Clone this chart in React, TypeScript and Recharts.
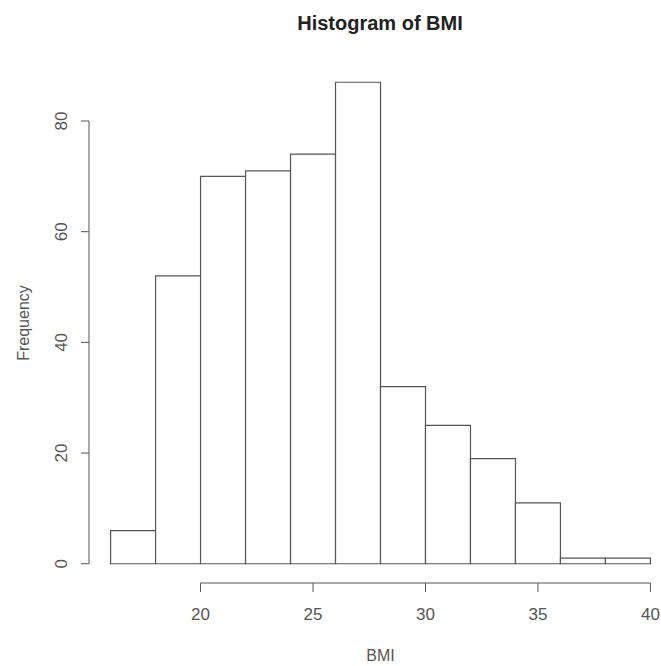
import React from 'react';
import { ComposedChart, Bar, XAxis, YAxis, ReferenceLine } from 'recharts';

// bins of width 2, from 16 to 40
const binStarts = [16, 18, 20, 22, 24, 26, 28, 30, 32, 34, 36, 38];
const counts = [6, 52, 70, 71, 74, 87, 32, 25, 19, 11, 1, 1];
const xTicks = [20, 25, 30, 35, 40];
const yTicks = [0, 20, 40, 60, 80];

const data = binStarts.map((s, i) => ({ mid: s + 1, count: counts[i] }));

const FONT = '"Liberation Sans", Arial, Helvetica, sans-serif';
const INK = '#555';

// R pads the axis range by 4% on each side
const xDomain = [15.04, 40.96];
const yDomain = [-3.48, 90.48];

const YTick = ({ x, y, payload }: any) => (
  <text
    x={x - 18}
    y={y}
    dy="0.35em"
    transform={`rotate(-90 ${x - 18} ${y})`}
    textAnchor="middle"
    fontSize={17}
    fill={INK}
    fontFamily={FONT}
  >
    {payload.value}
  </text>
);

const FreqLabel = ({ viewBox }: any) => {
  const cy = viewBox.y + viewBox.height / 2;
  return (
    <text
      x={23}
      y={cy}
      dy="0.35em"
      transform={`rotate(-90 23 ${cy})`}
      textAnchor="middle"
      fontSize={16}
      fill={INK}
      fontFamily={FONT}
    >
      Frequency
    </text>
  );
};

export default function App() {
  return (
    <div style={{ position: 'absolute', left: 0, top: 0, width: 661, height: 666, overflow: 'hidden', background: '#fff', fontFamily: FONT }}>
      <div style={{ position: 'absolute', left: 230, top: 11, width: 300, lineHeight: '24px', fontSize: 20, fontWeight: 'bold', textAlign: 'center', color: '#222' }}>
        Histogram of BMI
      </div>
      <ComposedChart
        width={700}
        height={666}
        data={data}
        margin={{ top: 63, right: 28, left: 0, bottom: 23 }}
        barCategoryGap={0}
        barGap={0}
      >
        <XAxis
          dataKey="mid"
          type="number"
          domain={xDomain}
          allowDataOverflow
          ticks={xTicks}
          axisLine={false}
          tickLine={{ stroke: INK }}
          tickSize={9}
          tickMargin={16}
          height={60}
          tick={{ fontSize: 17, fill: INK, fontFamily: FONT }}
          label={{ value: 'BMI', position: 'bottom', offset: 7, fontSize: 16, fill: INK, fontFamily: FONT }}
        />
        <YAxis
          type="number"
          domain={yDomain}
          allowDataOverflow
          ticks={yTicks}
          axisLine={false}
          tickLine={{ stroke: INK }}
          tickSize={8}
          width={89}
          tick={<YTick />}
          label={<FreqLabel />}
        />
        <ReferenceLine
          segment={[{ x: 20, y: yDomain[0] }, { x: 40, y: yDomain[0] }]}
          stroke={INK}
          ifOverflow="visible"
        />
        <ReferenceLine
          segment={[{ x: xDomain[0], y: 0 }, { x: xDomain[0], y: 80 }]}
          stroke={INK}
          ifOverflow="visible"
        />
        <Bar dataKey="count" fill="#fff" stroke={INK} strokeWidth={1.2} isAnimationActive={false} />
      </ComposedChart>
    </div>
  );
}
